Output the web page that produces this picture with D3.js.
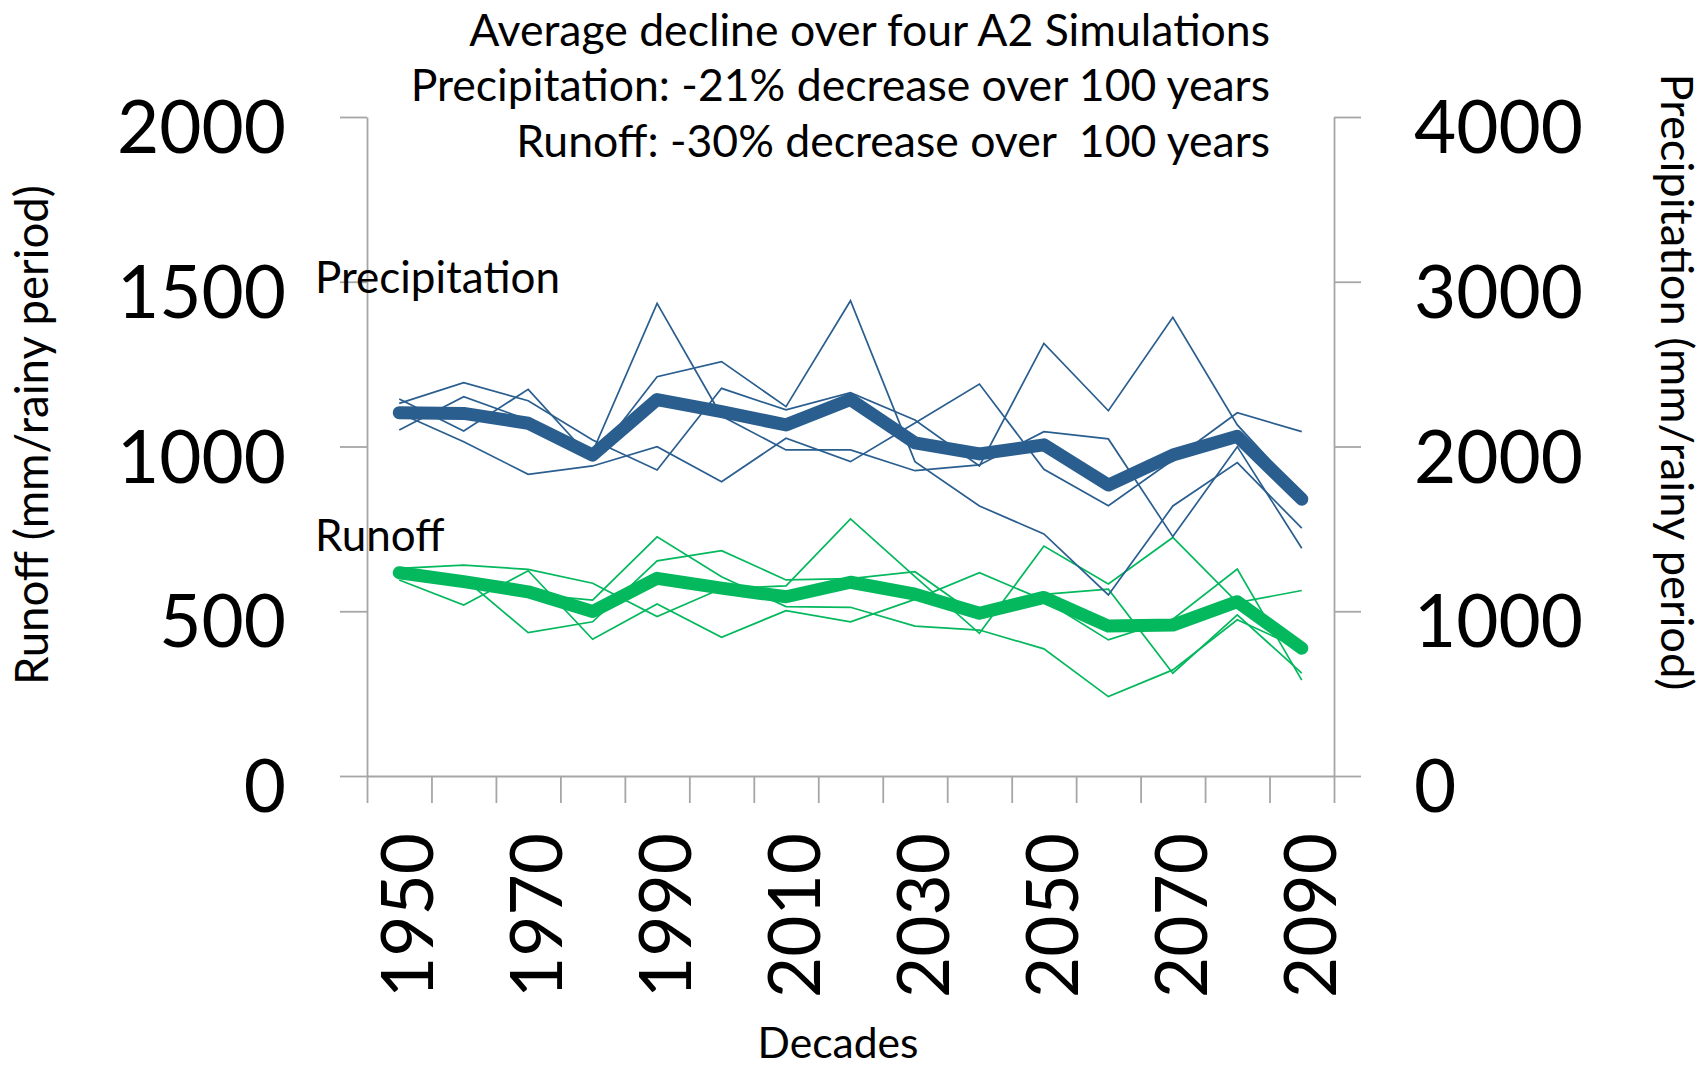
<!DOCTYPE html>
<html>
<head>
<meta charset="utf-8">
<script src="https://cdn.jsdelivr.net/npm/d3@7"></script>
<style>
  html, body { margin: 0; padding: 0; background: #ffffff; }
  svg { display: block; }
  text { font-family: Lato, "Liberation Sans", sans-serif; fill: #000; }
</style>
</head>
<body>
<svg id="chart" width="1706" height="1068"></svg>
<script>
// ---------------- data ----------------
const decades = [1950, 1960, 1970, 1980, 1990, 2000, 2010, 2020, 2030, 2040, 2050, 2060, 2070, 2080, 2090];
const decadeLabels = ["1950", "", "1970", "", "1990", "", "2010", "", "2030", "", "2050", "", "2070", "", "2090"];

// Precipitation (mm/rainy period), right axis
const precipMean = [2205, 2201, 2141, 1948, 2285, 2211, 2131, 2285, 2022, 1955, 2010, 1766, 1948, 2062, 1680];
const precipSim1 = [2262, 2387, 2278, 2040, 1857, 2353, 2222, 2327, 2161, 1882, 2626, 2217, 2784, 2131, 1706];
const precipSim2 = [2288, 2094, 2347, 1918, 2424, 2515, 2242, 2885, 1908, 1639, 1469, 1099, 1639, 1902, 1504];
const precipSim3 = [2100, 2302, 2161, 1967, 2869, 2185, 1979, 1979, 1853, 1888, 2090, 2046, 1453, 1999, 1382];
const precipSim4 = [2203, 2029, 1831, 1882, 1999, 1786, 2050, 1908, 2143, 2379, 1862, 1641, 1918, 2205, 2090];

// Runoff (mm/rainy period), left axis
const runoffMean = [617, 590, 559, 499, 600, 570, 544, 588, 552, 494, 542, 455, 458, 529, 388];
const runoffSim1 = [630, 640, 627, 585, 484, 569, 577, 780, 605, 433, 698, 583, 724, 526, 563];
const runoffSim2 = [595, 519, 623, 415, 522, 421, 502, 468, 536, 617, 534, 413, 476, 628, 291];
const runoffSim3 = [620, 600, 435, 468, 653, 684, 595, 599, 620, 482, 551, 567, 312, 489, 312];
const runoffSim4 = [623, 600, 552, 534, 726, 605, 514, 512, 455, 443, 386, 241, 322, 474, 385];

const leftTicks = [0, 500, 1000, 1500, 2000];
const rightTicks = [0, 1000, 2000, 3000, 4000];

const titleLines = [
  "Average decline over four A2 Simulations",
  "Precipitation: -21% decrease over 100 years",
  "Runoff: -30% decrease over  100 years"
];

// ---------------- layout ----------------
const svg = d3.select("#chart");
const plotL = 367, plotR = 1334, plotT = 117, plotB = 776;
const axisColor = "#A6A6A6";
const blue = "#2A5E8F";
const green = "#03B85D";

const x = d3.scaleBand().domain(decades).range([plotL, plotR]).padding(0);
const xc = d => x(d) + x.bandwidth() / 2;
const xBound = d3.scaleLinear().domain([0, decades.length]).range([plotL, plotR]);
const yL = d3.scaleLinear().domain([0, 2000]).range([plotB, plotT]);
const yR = d3.scaleLinear().domain([0, 4000]).range([plotB, plotT]);

function fitWidth(sel, target) {
  const n = sel.node();
  const fs = parseFloat(sel.attr("font-size"));
  const cur = n.getComputedTextLength();
  if (cur > 0) sel.attr("font-size", fs * target / cur);
  return parseFloat(sel.attr("font-size"));
}

// ---------------- axes ----------------
function styleAxis(g) {
  g.selectAll("path.domain").attr("stroke", axisColor).attr("stroke-width", 1.8);
  g.selectAll(".tick line").attr("stroke", axisColor).attr("stroke-width", 1.8);
  g.selectAll(".tick text").remove();
}

const gxAxis = svg.append("g").attr("transform", `translate(0,${plotB})`)
  .call(d3.axisBottom(xBound).tickValues(d3.range(decades.length + 1)).tickFormat("").tickSizeInner(27).tickSizeOuter(0));
styleAxis(gxAxis);

const gyL = svg.append("g").attr("transform", `translate(${plotL},0)`)
  .call(d3.axisLeft(yL).tickValues(leftTicks).tickFormat("").tickSizeInner(27).tickSizeOuter(0));
styleAxis(gyL);

const gyR = svg.append("g").attr("transform", `translate(${plotR},0)`)
  .call(d3.axisRight(yR).tickValues(rightTicks).tickFormat("").tickSizeInner(27).tickSizeOuter(0));
styleAxis(gyR);

// tick labels left
const lblL = svg.append("g").selectAll("text").data(leftTicks).join("text")
  .attr("x", 286).attr("y", d => yL(d) + 36)
  .attr("text-anchor", "end").attr("font-size", 76).text(d => d);
const fsNum = fitWidth(lblL.filter(d => d === 2000), 169);
lblL.attr("font-size", fsNum);

// tick labels right
svg.append("g").selectAll("text").data(rightTicks).join("text")
  .attr("x", 1414).attr("y", d => yR(d) + 36)
  .attr("text-anchor", "start").attr("font-size", fsNum).text(d => d);

// x labels (rotated)
const xl = svg.append("g").selectAll("text")
  .data(decades.map((d, i) => ({ d, lab: decadeLabels[i] })).filter(o => o.lab !== ""))
  .join("text")
  .attr("transform", o => `translate(${xc(o.d) + 34},833) rotate(-90)`)
  .attr("text-anchor", "end").attr("font-size", 76).text(o => o.lab);
const fsX = fitWidth(xl.filter((o, i) => i === 0), 165);
xl.attr("font-size", fsX);

// ---------------- lines ----------------
const lineL = d3.line().x((v, i) => xc(decades[i])).y(v => yL(v));
const lineR = d3.line().x((v, i) => xc(decades[i])).y(v => yR(v));

const thin = 1.7, thick = 13;
[runoffSim1, runoffSim2, runoffSim3, runoffSim4].forEach(s => {
  svg.append("path").attr("d", lineL(s)).attr("fill", "none")
    .attr("stroke", green).attr("stroke-width", thin).attr("stroke-linejoin", "miter");
});
[precipSim1, precipSim2, precipSim3, precipSim4].forEach(s => {
  svg.append("path").attr("d", lineR(s)).attr("fill", "none")
    .attr("stroke", blue).attr("stroke-width", thin).attr("stroke-linejoin", "miter");
});
svg.append("path").attr("d", lineL(runoffMean)).attr("fill", "none")
  .attr("stroke", green).attr("stroke-width", thick)
  .attr("stroke-linecap", "round").attr("stroke-linejoin", "round");
svg.append("path").attr("d", lineR(precipMean)).attr("fill", "none")
  .attr("stroke", blue).attr("stroke-width", thick)
  .attr("stroke-linecap", "round").attr("stroke-linejoin", "round");

// ---------------- texts ----------------
const tBase = [46, 101, 157];
const tl = svg.append("g").selectAll("text").data(titleLines).join("text")
  .attr("x", 1270).attr("y", (d, i) => tBase[i])
  .attr("text-anchor", "end").attr("font-size", 40).style("white-space", "pre").text(d => d);
const fsTitle = fitWidth(tl.filter((d, i) => i === 0), 801);
tl.attr("font-size", fsTitle);

const pLab = svg.append("text").attr("x", 315).attr("y", 293)
  .attr("font-size", 40).text("Precipitation");
fitWidth(pLab, 245);
const rLab = svg.append("text").attr("x", 315).attr("y", 551)
  .attr("font-size", 40).text("Runoff");
rLab.attr("font-size", pLab.attr("font-size"));

const yTitleL = svg.append("text")
  .attr("transform", "translate(48,435) rotate(-90)")
  .attr("text-anchor", "middle").attr("font-size", 36).text("Runoff (mm/rainy period)");
fitWidth(yTitleL, 500);

const yTitleR = svg.append("text")
  .attr("transform", "translate(1661,382) rotate(90)")
  .attr("text-anchor", "middle").attr("font-size", 36).text("Precipitation (mm/rainy period)");
fitWidth(yTitleR, 617);

const xTitle = svg.append("text").attr("x", 838).attr("y", 1058)
  .attr("text-anchor", "middle").attr("font-size", 36).text("Decades");
fitWidth(xTitle, 161);
</script>
</body>
</html>
